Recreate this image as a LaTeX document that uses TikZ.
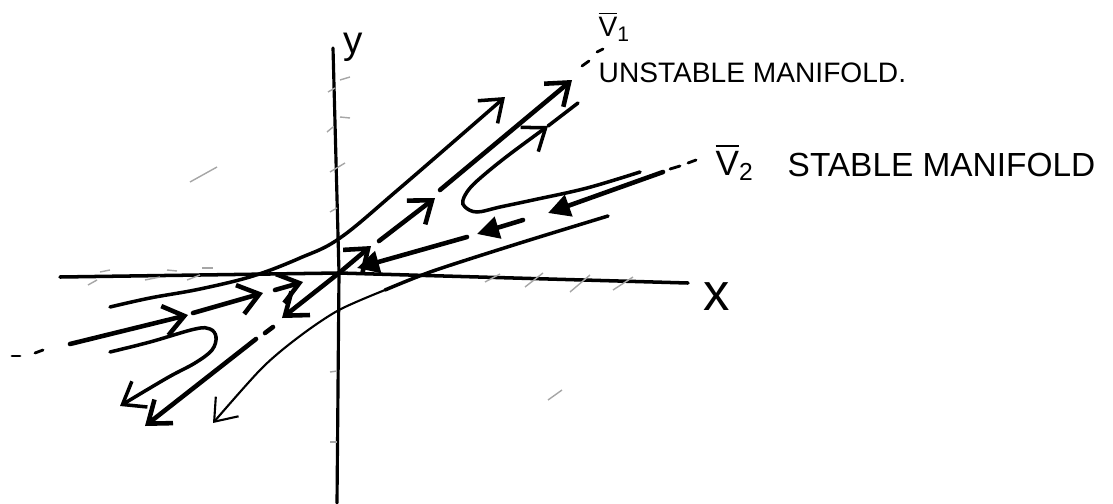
\documentclass[tikz,border=0pt]{standalone}
\usepackage{amsmath}
\usepackage{fontspec}
\setmainfont{Liberation Sans}
\usetikzlibrary{arrows.meta}
\tikzset{
  >={Straight Barb[length=2mm,width=3mm]},
  axis/.style={draw=black, line width=1pt, line cap=round},
  traj/.style={draw=black, line width=1pt, line cap=round},
  thintraj/.style={draw=black, line width=0.6pt, line cap=round},
  manifold/.style={draw=black, line width=1.3pt, line cap=round},
  fillhead/.style={-{Triangle[length=2.2mm,width=2.2mm]}},
  ghost/.style={draw=black!35, line width=0.4pt},
  hand/.style={inner sep=0pt, text=black},
}

\begin{document}
\begin{tikzpicture}[x=0.01cm,y=-0.01cm]
\useasboundingbox (0,0) rectangle (1113,503);

% -----------------------------------------------------------------------------
% axes
% -----------------------------------------------------------------------------
\coordinate (O) at (339,273);
\draw[axis] (60,277) -- (O) -- (688,283);
\draw[axis, line width=0.9pt] (333,48) -- (O) -- (337,503);
\node[hand, font=\fontsize{11}{11}\selectfont, anchor=base west] (ylab) at (343,53) {y};
\node[hand, font=\fontsize{15}{15}\selectfont, anchor=base west] (xlab) at (703,310) {x};

% faint marks showing through the paper
\foreach \ax/\ay/\bx/\by in {100/272/110/270, 88/285/97/280, 145/280/160/277, 167/270/177/271,
                             187/280/200/275, 202/268/213/268, 485/282/500/274, 525/287/543/273,
                             570/292/590/275, 613/290/633/277, 328/92/335/88, 340/80/350/77,
                             327/132/333/127, 340/117/350/118, 330/172/345/163, 330/212/337/208,
                             330/372/337/371, 330/442/337/442, 190/182/217/167, 548/400/562/390}
  {\draw[ghost] (\ax,\ay) -- (\bx,\by);}

% -----------------------------------------------------------------------------
% unstable manifold (v1)
% -----------------------------------------------------------------------------
\draw[manifold,->] (O) -- (371,246);
\draw[manifold,->] (379,241) -- (435,198);
\draw[manifold,->] (440,190) -- (572,80);
\draw[manifold, line width=0.8pt] (582,66) -- (589,61);
\draw[manifold, line width=0.8pt] (597,52) -- (603,49);
\draw[manifold,->] (O) -- (282,318);
\draw[manifold] (273,327) -- (265,333);
\draw[manifold,->] (256,339) -- (145,426);
\node[hand, font=\fontsize{8}{8}\selectfont, anchor=base west] (vone) at (598,37) {$\overline{\text{V}}_{\text{1}}$};
\node[hand, font=\fontsize{8}{8}\selectfont, anchor=west] (unst) at (598,73) {UNSTABLE MANIFOLD.};

% -----------------------------------------------------------------------------
% stable manifold (v2)
% -----------------------------------------------------------------------------
\draw[manifold,fillhead] (467,237) -- (357,268);
\draw[manifold,fillhead] (523,220) -- (477,234);
\draw[manifold,fillhead] (663,172) -- (548,213);
\draw[manifold, line width=0.8pt] (670,169) -- (680,166);
\draw[manifold, line width=0.8pt] (688,163) -- (696,160);
\draw[manifold,->] (70,344) -- (188,315);
\draw[manifold,->] (193,313) -- (263,293);
\draw[manifold,->] (275,290) -- (303,282);
\draw[manifold, line width=0.8pt] (12,356) -- (20,356);
\draw[manifold, line width=0.8pt] (35,353) -- (43,350);
\node[hand, font=\fontsize{10}{10}\selectfont, anchor=base west] (vtwo) at (715,175) {$\overline{\text{V}}_{\text{2}}$};
\node[hand, font=\fontsize{9.5}{9.5}\selectfont, anchor=west] (stab) at (787,165) {STABLE MANIFOLD};

% -----------------------------------------------------------------------------
% trajectories
% -----------------------------------------------------------------------------
% upper left
\draw[traj,->] plot[smooth, tension=0.6] coordinates
  {(110,307) (150,298) (200,289) (253,276) (300,258) (340,238) (400,188) (505,97)};
% upper right hook
\draw[traj,->] plot[smooth, tension=0.6] coordinates
  {(640,172) (587,188) (533,200) (500,207) (477,212) (465,207) (463,200) (470,188) (485,174) (510,154) (548,126)};
\draw[traj] (548,126) -- (578,103);
% lower right
\draw[traj] plot[smooth] coordinates {(608,216) (520,243) (433,271) (385,290)};
\draw[thintraj,->] plot[smooth] coordinates {(385,290) (339,310) (300,336) (262,368) (213,423)};
% lower left hook
\draw[traj,->] plot[smooth, tension=0.6] coordinates
  {(110,352) (150,342) (195,329) (210,329) (216,337) (212,350) (195,363) (167,378) (120,406)};

\end{tikzpicture}
\end{document}
